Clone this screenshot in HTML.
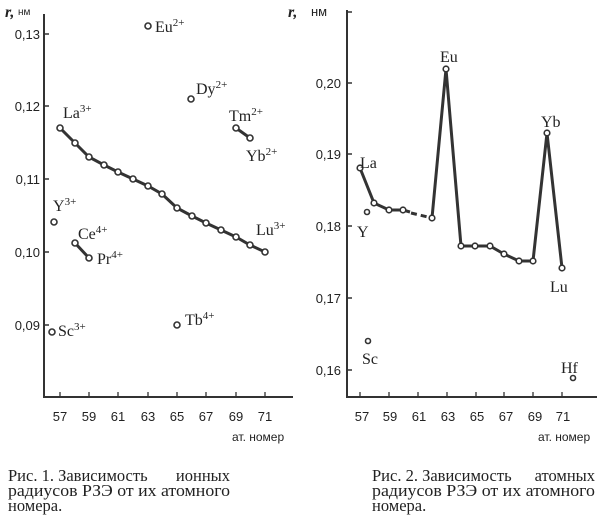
<!DOCTYPE html>
<html><head><meta charset="utf-8"><style>
html,body{margin:0;padding:0;background:#fff;}
svg{display:block}
.t{font-family:"Liberation Sans Narrow","Liberation Sans",sans-serif;font-size:13px;fill:#222}
.s{font-family:"Liberation Serif",serif;font-size:16px;fill:#222}
.sup{font-size:11px}
.cap{font-family:"Liberation Serif",serif;font-size:16.5px;fill:#222}
</style></head><body>
<svg width="602" height="520" viewBox="0 0 602 520" xmlns="http://www.w3.org/2000/svg">
<g stroke="#333" fill="none" stroke-width="2">
<path d="M44,14 V397 H293"/>
<path d="M44,34 h5 M44,106 h5 M44,179 h5 M44,252 h5 M44,325 h5" stroke-width="1.5"/>
<path d="M60,397v-5 M89,397v-5 M118,397v-5 M148,397v-5 M177,397v-5 M206,397v-5 M236,397v-5 M265,397v-5" stroke-width="1.3"/>
<path d="M347,10 V397 H597"/>
<path d="M347,12 h5 M347,83 h5 M347,154 h5 M347,226 h5 M347,298 h5 M347,370 h5" stroke-width="1.5"/>
<path d="M360,397v-5 M389,397v-5 M418,397v-5 M447,397v-5 M476,397v-5 M504,397v-5 M533,397v-5 M562,397v-5" stroke-width="1.3"/>
</g>
<polyline fill="none" stroke="#333" stroke-width="3" points="60,128 75,143 89,157 104,165 118,172 133,179 148,186 162,194 177,208 192,216 206,223 221,230 236,237 250,245 265,252"/>
<polyline fill="none" stroke="#333" stroke-width="3" points="236,128 250,138"/>
<polyline fill="none" stroke="#333" stroke-width="3" points="75,243 89,258"/>
<g fill="#fff" stroke="#333" stroke-width="1.6">
<circle cx="60" cy="128" r="3"/><circle cx="75" cy="143" r="3"/><circle cx="89" cy="157" r="3"/><circle cx="104" cy="165" r="3"/><circle cx="118" cy="172" r="3"/><circle cx="133" cy="179" r="3"/><circle cx="148" cy="186" r="3"/><circle cx="162" cy="194" r="3"/><circle cx="177" cy="208" r="3"/><circle cx="192" cy="216" r="3"/><circle cx="206" cy="223" r="3"/><circle cx="221" cy="230" r="3"/><circle cx="236" cy="237" r="3"/><circle cx="250" cy="245" r="3"/><circle cx="265" cy="252" r="3"/>
<circle cx="236" cy="128" r="3"/><circle cx="250" cy="138" r="3"/>
<circle cx="75" cy="243" r="3"/><circle cx="89" cy="258" r="3"/>
<circle cx="148" cy="26" r="3"/><circle cx="191" cy="99" r="3"/><circle cx="54" cy="222" r="3"/><circle cx="52" cy="332" r="3"/><circle cx="177" cy="325" r="3"/>
</g>
<g class="s">
<text x="155" y="32">Eu<tspan class="sup" dy="-6">2+</tspan></text>
<text x="196" y="94">Dy<tspan class="sup" dy="-6">2+</tspan></text>
<text x="229" y="121">Tm<tspan class="sup" dy="-6">2+</tspan></text>
<text x="246" y="161">Yb<tspan class="sup" dy="-6">2+</tspan></text>
<text x="63" y="118">La<tspan class="sup" dy="-6">3+</tspan></text>
<text x="53" y="211">Y<tspan class="sup" dy="-6">3+</tspan></text>
<text x="78" y="239">Ce<tspan class="sup" dy="-6">4+</tspan></text>
<text x="97" y="264">Pr<tspan class="sup" dy="-6">4+</tspan></text>
<text x="256" y="235">Lu<tspan class="sup" dy="-6">3+</tspan></text>
<text x="58" y="336">Sc<tspan class="sup" dy="-6">3+</tspan></text>
<text x="185" y="325">Tb<tspan class="sup" dy="-6">4+</tspan></text>
</g>
<g class="t" text-anchor="end">
<text x="40" y="39">0,13</text><text x="40" y="111">0,12</text><text x="40" y="184">0,11</text><text x="40" y="257">0,10</text><text x="40" y="330">0,09</text>
<text x="341" y="88">0,20</text><text x="341" y="159">0,19</text><text x="341" y="231">0,18</text><text x="341" y="303">0,17</text><text x="341" y="375">0,16</text>
</g>
<g class="t" text-anchor="middle">
<text x="60" y="421">57</text><text x="89" y="421">59</text><text x="118" y="421">61</text><text x="148" y="421">63</text><text x="177" y="421">65</text><text x="206" y="421">67</text><text x="236" y="421">69</text><text x="265" y="421">71</text>
<text x="362" y="421">57</text><text x="390" y="421">59</text><text x="419" y="421">61</text><text x="448" y="421">63</text><text x="477" y="421">65</text><text x="506" y="421">67</text><text x="535" y="421">69</text><text x="563" y="421">71</text>
</g>
<text class="t" x="232" y="441" style="font-size:12px">ат. номер</text>
<text class="t" x="538" y="441" style="font-size:12px">ат. номер</text>
<text x="5" y="17" style="font-family:'Liberation Serif',serif;font-size:16px;font-weight:bold;font-style:italic;fill:#222">r,</text>
<text x="18" y="15" style="font-family:'Liberation Sans',sans-serif;font-size:10px;fill:#222">нм</text>
<text x="288" y="17" style="font-family:'Liberation Serif',serif;font-size:16px;font-weight:bold;font-style:italic;fill:#222">r,</text>
<text x="311" y="16" style="font-family:'Liberation Sans',sans-serif;font-size:13px;fill:#222">нм</text>
<g fill="none" stroke="#333" stroke-width="3">
<polyline points="360,168 374,203 389,210 403,210 410,212"/>
<polyline points="411,213 432,218" stroke-dasharray="6,4"/>
<polyline points="432,218 446,69 461,246 475,246 490,246 504,254 519,261 533,261 547,133 562,268"/>
</g>
<g fill="#fff" stroke="#333" stroke-width="1.6">
<circle cx="360" cy="168" r="2.8"/><circle cx="374" cy="203" r="2.8"/><circle cx="389" cy="210" r="2.8"/><circle cx="403" cy="210" r="2.8"/><circle cx="432" cy="218" r="2.8"/><circle cx="446" cy="69" r="2.8"/><circle cx="461" cy="246" r="2.8"/><circle cx="475" cy="246" r="2.8"/><circle cx="490" cy="246" r="2.8"/><circle cx="504" cy="254" r="2.8"/><circle cx="519" cy="261" r="2.8"/><circle cx="533" cy="261" r="2.8"/><circle cx="547" cy="133" r="2.8"/><circle cx="562" cy="268" r="2.8"/>
<circle cx="367" cy="212" r="2.5"/><circle cx="368" cy="341" r="2.5"/><circle cx="573" cy="378" r="2.5"/>
</g>
<g class="s">
<text x="440" y="62">Eu</text><text x="541" y="127">Yb</text><text x="360" y="168">La</text><text x="357" y="237">Y</text><text x="550" y="292">Lu</text><text x="362" y="364">Sc</text><text x="561" y="373">Hf</text>
</g>
<g class="cap">
<text x="8" y="481">Рис. 1. Зависимость</text>
<text x="230" y="481" text-anchor="end">ионных</text>
<text x="8" y="496" textLength="222" lengthAdjust="spacingAndGlyphs">радиусов РЗЭ от их атомного</text>
<text x="8" y="511">номера.</text>
<text x="372" y="481">Рис. 2. Зависимость</text>
<text x="595" y="481" text-anchor="end">атомных</text>
<text x="372" y="496" textLength="223" lengthAdjust="spacingAndGlyphs">радиусов РЗЭ от их атомного</text>
<text x="372" y="511">номера.</text>
</g>
</svg>
</body></html>
